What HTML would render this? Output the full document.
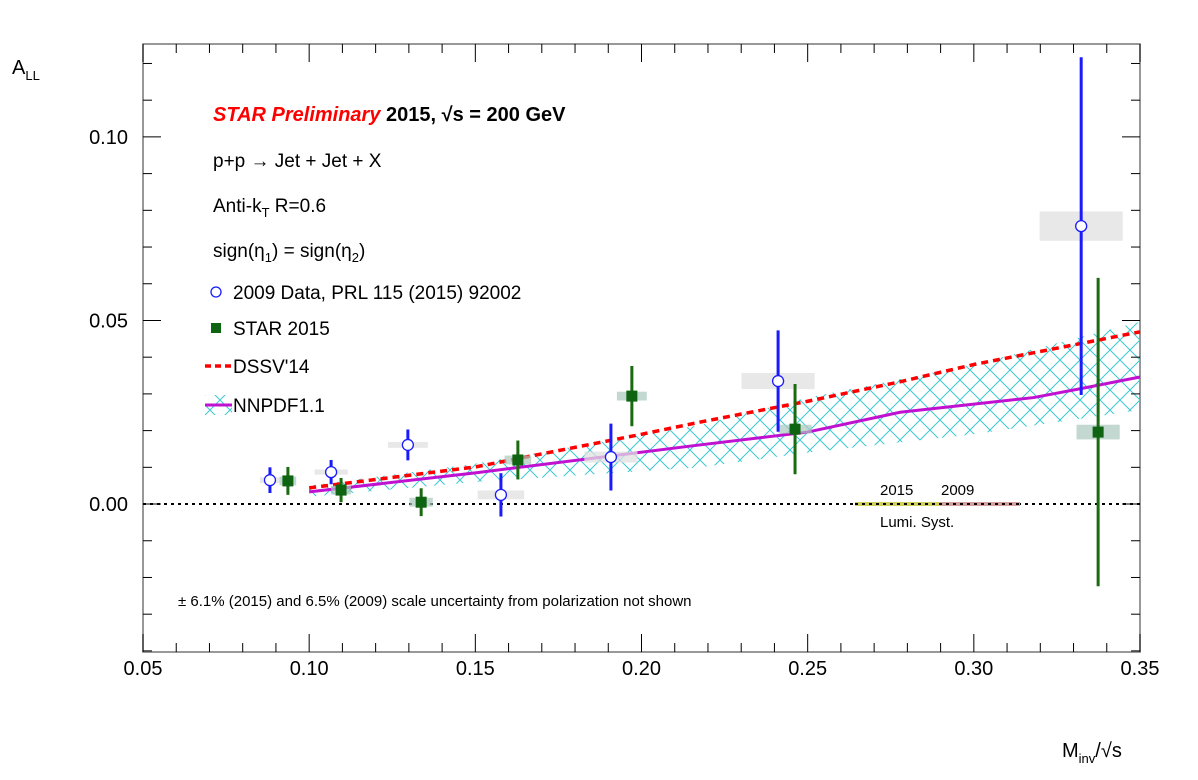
<!DOCTYPE html>
<html><head><meta charset="utf-8"><style>
body{margin:0;background:#fff}
svg text{font-family:"Liberation Sans",Arial,sans-serif}
</style></head><body>
<svg width="1198" height="775" xmlns="http://www.w3.org/2000/svg">
<defs>
<pattern id="hatch" width="20" height="20" patternUnits="userSpaceOnUse">
<path d="M0,0L20,20M20,0L0,20" stroke="#3cc8d0" stroke-width="1" fill="none"/>
</pattern>
</defs>
<g id="plot"></g>
</svg>
<script>
const xMin=0.05,xMax=0.35,yMin=-0.0403,yMax=0.1253;
const L=143,R=1140,T=44,B=652;
const X=v=>L+(v-xMin)/(xMax-xMin)*(R-L);
const Y=v=>B-(v-yMin)/(yMax-yMin)*(B-T);
const xTicks=[0.05,0.10,0.15,0.20,0.25,0.30,0.35];
const xTickLabels=["0.05","0.10","0.15","0.20","0.25","0.30","0.35"];
const yTicks=[0.00,0.05,0.10];
const yTickLabels=["0.00","0.05","0.10"];
const d09x=[0.0882,0.1066,0.1297,0.1577,0.1908,0.2411,0.3323];
const d09y=[0.0065,0.0087,0.0161,0.0025,0.0128,0.0335,0.0757];
const d09e=[0.0035,0.0033,0.0042,0.0059,0.0091,0.0138,0.046];
const d09sx=[0.003,0.005,0.006,0.007,0.008,0.011,0.0125];
const d09sy=[0.0008,0.0007,0.0008,0.0012,0.0015,0.0022,0.004];
const d15x=[0.0936,0.1096,0.1337,0.1628,0.1971,0.2462,0.3374];
const d15y=[0.0063,0.0038,0.0005,0.012,0.0294,0.0204,0.0196];
const d15e=[0.0038,0.0033,0.0038,0.0053,0.0082,0.0123,0.042];
const d15sx=[0.0025,0.003,0.0035,0.004,0.0045,0.005,0.0065];
const d15sy=[0.0012,0.0012,0.0012,0.0012,0.0012,0.0012,0.002];
const dssvX=[0.10,0.15,0.20,0.2175,0.25,0.2778,0.30,0.35];
const dssvY=[0.0044,0.0101,0.019,0.0223,0.028,0.0333,0.038,0.0469];
const nnX=[0.10,0.15,0.2175,0.25,0.2778,0.318,0.332,0.35];
const nnY=[0.0033,0.0085,0.0161,0.0196,0.025,0.029,0.0314,0.0346];
const bandX=[0.10,0.15,0.2175,0.25,0.30,0.35];
const bandHi=[0.005,0.011,0.0215,0.029,0.038,0.0496];
const bandLo=[0.002,0.006,0.010,0.014,0.019,0.0256];
const g=document.getElementById('plot');
const NS="http://www.w3.org/2000/svg";
function mk(tag,attrs,name,parent){const e=document.createElementNS(NS,tag);for(const k in attrs)e.setAttribute(k,attrs[k]);


(parent||g).appendChild(e);return e;}
function txt(x,y,s,size,name,extra){const e=mk('text',Object.assign({x:x,y:y,'font-size':size},extra||{}),name);e.innerHTML=s;return e;}
mk('rect',{x:L,y:T,width:R-L,height:B-T,fill:'none',stroke:'#777','stroke-width':1.5},'plot-frame');
let bp=bandX.map((v,i)=>X(v)+','+Y(bandHi[i])).concat(bandX.slice().reverse().map((v,i)=>X(v)+','+Y(bandLo[bandX.length-1-i])));
mk('polygon',{points:bp.join(' '),fill:'url(#hatch)',stroke:'none'},'nnpdf-uncertainty-band');
mk('line',{x1:L,x2:R,y1:Y(0),y2:Y(0),stroke:'#000','stroke-width':2,'stroke-dasharray':'3,4'},'zero-line');
mk('line',{x1:855,x2:940,y1:Y(0),y2:Y(0),stroke:'#d0d060','stroke-width':4},'lumi-2015-band');
mk('line',{x1:940,x2:1020,y1:Y(0),y2:Y(0),stroke:'#d8a0a0','stroke-width':4},'lumi-2009-band');
mk('line',{x1:855,x2:1020,y1:Y(0),y2:Y(0),stroke:'#000','stroke-width':2,'stroke-dasharray':'3,4'},'lumi-dots');
txt(880,495,'2015',15,'lumi-2015-label');txt(941,495,'2009',15,'lumi-2009-label');txt(880,527,'Lumi. Syst.',15,'lumi-label');
for(let v=0.05;v<=0.3501;v+=0.01){const maj=Math.abs(Math.round(v*100)%5)==0;const h=maj?18:9;
mk('line',{x1:X(v),x2:X(v),y1:B,y2:B-h,stroke:'#000','stroke-width':1},'x-tick');
mk('line',{x1:X(v),x2:X(v),y1:T,y2:T+h,stroke:'#000','stroke-width':1},'x-tick-top');}
xTicks.forEach((v,i)=>txt(X(v),675,xTickLabels[i],20,'x-tick-label',{'text-anchor':'middle'}));
for(let k=-4;k<=12;k++){const v=k/100;const maj=k%5==0;const h=maj?18:9;
mk('line',{x1:L,x2:L+h,y1:Y(v),y2:Y(v),stroke:'#000','stroke-width':1},'y-tick');
mk('line',{x1:R,x2:R-h,y1:Y(v),y2:Y(v),stroke:'#000','stroke-width':1},'y-tick-right');}
yTicks.forEach((v,i)=>txt(128,Y(v)+7,yTickLabels[i],20,'y-tick-label',{'text-anchor':'end'}));
mk('polyline',{points:nnX.map((v,i)=>X(v)+','+Y(nnY[i])).join(' '),fill:'none',stroke:'#c010d0','stroke-width':3},'nnpdf-curve');
mk('polyline',{points:dssvX.map((v,i)=>X(v)+','+Y(dssvY[i])).join(' '),fill:'none',stroke:'#ff0000','stroke-width':3.5,'stroke-dasharray':'7,5'},'dssv-curve');
d09x.forEach((v,i)=>mk('rect',{x:X(v-d09sx[i]),y:Y(d09y[i]+d09sy[i]),width:X(v+d09sx[i])-X(v-d09sx[i]),height:Y(d09y[i]-d09sy[i])-Y(d09y[i]+d09sy[i]),fill:'#e0e0e0','fill-opacity':0.75},'syst-2009'));
d15x.forEach((v,i)=>mk('rect',{x:X(v-d15sx[i]),y:Y(d15y[i]+d15sy[i]),width:X(v+d15sx[i])-X(v-d15sx[i]),height:Y(d15y[i]-d15sy[i])-Y(d15y[i]+d15sy[i]),fill:'#a8c8bc','fill-opacity':0.7},'syst-2015'));
d09x.forEach((v,i)=>{mk('line',{x1:X(v),x2:X(v),y1:Y(d09y[i]+d09e[i]),y2:Y(d09y[i]-d09e[i]),stroke:'#1a1aff','stroke-width':3},'err-2009');
mk('circle',{cx:X(v),cy:Y(d09y[i]),r:5.5,fill:'#fff',stroke:'#1a1aff','stroke-width':1.3},'point-2009');});
d15x.forEach((v,i)=>{mk('line',{x1:X(v),x2:X(v),y1:Y(d15y[i]+d15e[i]),y2:Y(d15y[i]-d15e[i]),stroke:'#1a6a10','stroke-width':3},'err-2015');
mk('rect',{x:X(v)-5.5,y:Y(d15y[i])-5.5,width:11,height:11,fill:'#0e6410'},'point-2015');});
txt(213,121,'<tspan fill="#ff0000" font-style="italic" font-weight="bold">STAR Preliminary</tspan><tspan font-weight="bold"> 2015, √s = 200 GeV</tspan>',20,'title');
txt(213,167,'p+p → Jet + Jet + X',19,'process-label');
txt(213,212,'Anti-k<tspan font-size="13" dy="5">T</tspan><tspan dy="-5"> R=0.6</tspan>',19,'jet-label');
txt(213,257,'sign(η<tspan font-size="13" dy="5">1</tspan><tspan dy="-5">) = sign(η</tspan><tspan font-size="13" dy="5">2</tspan><tspan dy="-5">)</tspan>',19,'eta-label');
mk('circle',{cx:216,cy:292,r:5,fill:'#fff',stroke:'#1a1aff','stroke-width':1.3},'legend-2009-marker');
txt(233,299,'2009 Data, PRL 115 (2015) 92002',19,'legend-2009');
mk('rect',{x:211,y:323,width:10,height:10,fill:'#0e6410'},'legend-2015-marker');
txt(233,335,'STAR 2015',19,'legend-2015');
mk('line',{x1:205,x2:232,y1:366,y2:366,stroke:'#ff0000','stroke-width':3.5,'stroke-dasharray':'6,4'},'legend-dssv-line');
txt(233,373,"DSSV'14",19,'legend-dssv');
mk('rect',{x:205,y:395,width:27,height:20,fill:'url(#hatch)'},'legend-nnpdf-band');
mk('line',{x1:205,x2:232,y1:405,y2:405,stroke:'#c010d0','stroke-width':3},'legend-nnpdf-line');
txt(233,412,'NNPDF1.1',19,'legend-nnpdf');
txt(178,606,'± 6.1% (2015) and 6.5% (2009) scale uncertainty from polarization not shown',15,'footnote');
txt(12,74,'A<tspan font-size="13" dy="6">LL</tspan>',20,'y-axis-title');
txt(1062,757,'M<tspan font-size="13" dy="6">inv</tspan><tspan dy="-6">/√s</tspan>',20,'x-axis-title');
</script>
</body></html>
